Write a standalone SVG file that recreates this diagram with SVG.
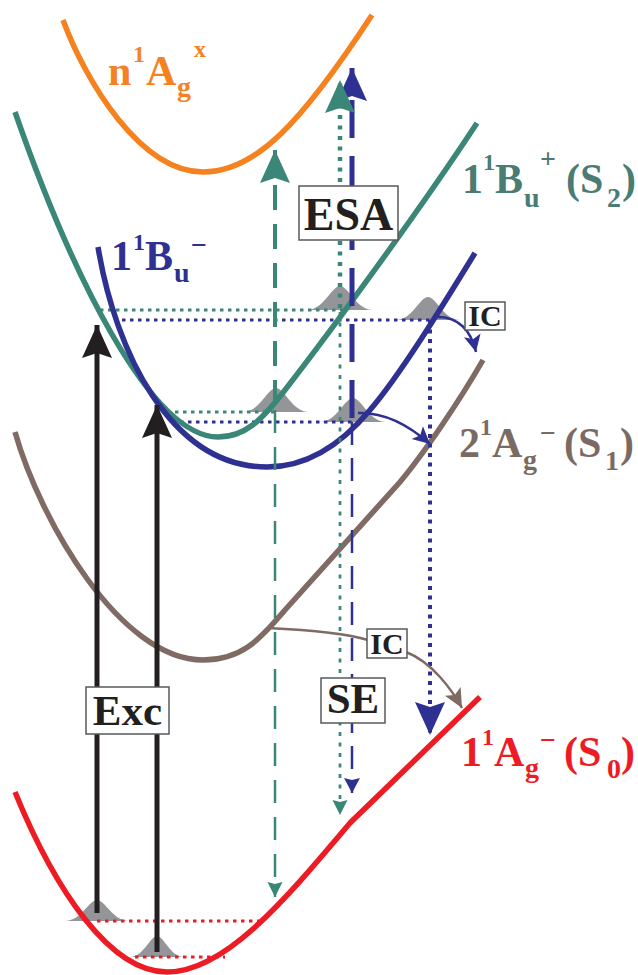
<svg xmlns="http://www.w3.org/2000/svg" width="638" height="975" viewBox="0 0 638 975">
<style>
.curve{fill:none;stroke-width:5.5;stroke-linecap:butt}
.wp{fill:#939598;stroke:none}
.hdot{fill:none;stroke-width:3.2;stroke-dasharray:3.5 4.5}
.lbl{font-family:"Liberation Serif","Times New Roman",serif;font-weight:bold}
.box rect{fill:#fff;stroke:#58595b;stroke-width:1.5}
.box text{font-family:"Liberation Serif","Times New Roman",serif;font-weight:bold;fill:#231f20;text-anchor:middle}
.sub{font-size:28px}
.sup{font-size:24px}
</style>
<defs>
<marker id="m-black" markerUnits="userSpaceOnUse" orient="auto" refX="0" refY="0" markerWidth="40" markerHeight="40" overflow="visible"><path d="M0,0 L-33,-15 L-28,0 L-33,15 Z" fill="#231f20"/></marker>
<marker id="m-teal" markerUnits="userSpaceOnUse" orient="auto" refX="0" refY="0" markerWidth="40" markerHeight="40" overflow="visible"><path d="M0,0 L-33,-15 L-28,0 L-33,15 Z" fill="#3a8677"/></marker>
<marker id="m-blue" markerUnits="userSpaceOnUse" orient="auto" refX="0" refY="0" markerWidth="40" markerHeight="40" overflow="visible"><path d="M0,0 L-33,-15 L-28,0 L-33,15 Z" fill="#2e3192"/></marker>
<marker id="m-teal-s" markerUnits="userSpaceOnUse" orient="auto" refX="0" refY="0" markerWidth="20" markerHeight="20" overflow="visible"><path d="M0,0 L-15,-7.5 L-13,0 L-15,7.5 Z" fill="#3a8677"/></marker>
<marker id="m-blue-s" markerUnits="userSpaceOnUse" orient="auto" refX="0" refY="0" markerWidth="20" markerHeight="20" overflow="visible"><path d="M0,0 L-15,-8 L-13,0 L-15,8 Z" fill="#2e3192"/></marker>
<marker id="m-blue-c" markerUnits="userSpaceOnUse" orient="auto" refX="0" refY="0" markerWidth="20" markerHeight="20" overflow="visible"><path d="M0,0 L-17,-8.5 L-13,0 L-17,8.5 Z" fill="#2e3192"/></marker>
<marker id="m-brown" markerUnits="userSpaceOnUse" orient="auto" refX="0" refY="0" markerWidth="24" markerHeight="24" overflow="visible"><path d="M0,0 L-19,-9 L-15,0 L-19,9 Z" fill="#7f6b63"/></marker>
</defs>
<rect width="638" height="975" fill="#fff"/>

<g id="wavepackets">
<path class="wp" d="M65,921 C81,921 89,900 97,900 C105,900 113,921 129,921 Z"/>
<path class="wp" d="M130,957 C143.5,957 150.25,936 157,936 C163.75,936 170.5,957 184,957 Z"/>
<path class="wp" d="M243,412 C259.5,412 267.75,388 276,388 C284.25,388 292.5,412 309,412 Z"/>
<path class="wp" d="M320,422 C336.5,422 344.75,398 353,398 C361.25,398 369.5,422 386,422 Z"/>
<path class="wp" d="M307,310 C323.5,310 331.75,286 340,286 C348.25,286 356.5,310 373,310 Z"/>
<path class="wp" d="M396,320 C412,320 420,297 428,297 C436,297 444,320 460,320 Z"/>
</g>

<g id="levels">
<line class="hdot" x1="100" y1="310" x2="345" y2="310" stroke="#3a8677"/>
<line class="hdot" x1="122" y1="320" x2="432" y2="320" stroke="#2e3192"/>
<line class="hdot" x1="167" y1="412" x2="276" y2="412" stroke="#3a8677"/>
<line class="hdot" x1="180" y1="422" x2="354" y2="422" stroke="#2e3192"/>
<line class="hdot" x1="97" y1="921" x2="263" y2="921" stroke="#ed1c24"/>
<line class="hdot" x1="135" y1="957" x2="225" y2="957" stroke="#ed1c24"/>
</g>

<g id="state-nAg">
<path class="curve" stroke="#f5821f" d="M63,20 C85,80 140,172 203,172 C255,172 300,125 372,15"/>
<text class="lbl" fill="#f5821f" font-size="42"><tspan x="108" y="85">n</tspan><tspan class="sup" x="133" y="62">1</tspan><tspan x="146" y="85">A</tspan><tspan class="sub" x="177" y="96">g</tspan><tspan class="sup" font-size="26" x="194" y="57">x</tspan></text>
</g>

<g id="state-S2">
<path class="curve" stroke="#3a8677" d="M15,112 C70,270 150,437 218,437 C245,437 262,420 285,390 C330,332 420,210 477,123"/>
<text class="lbl" fill="#4a7c74" font-size="42"><tspan x="462" y="193">1</tspan><tspan class="sup" x="483" y="170">1</tspan><tspan x="495" y="193">B</tspan><tspan class="sub" x="524" y="207">u</tspan><tspan class="sub" x="540" y="168">+</tspan><tspan x="566" y="193">(S</tspan><tspan class="sub" x="607" y="207">2</tspan><tspan x="622" y="193">)</tspan></text>
</g>

<g id="state-Bu-minus">
<path class="curve" stroke="#2e3192" d="M98,247 C115,350 170,467 267,467 C310,467 345,440 370,410 C400,375 440,310 475,253"/>
<text class="lbl" fill="#2e3192" font-size="42"><tspan x="111" y="270">1</tspan><tspan class="sup" x="133" y="250">1</tspan><tspan x="145" y="270">B</tspan><tspan class="sub" x="174" y="282">u</tspan><tspan class="sub" x="191" y="254">−</tspan></text>
</g>

<g id="state-S1">
<path class="curve" stroke="#7f6b63" d="M15,432 C40,520 120,660 203,660 C240,660 258,642 285,610 L400,482 C425,452 460,400 483,360"/>
<text class="lbl" fill="#7b6a63" font-size="42"><tspan x="459" y="457">2</tspan><tspan class="sup" x="480" y="435">1</tspan><tspan x="492" y="457">A</tspan><tspan class="sub" x="523" y="469">g</tspan><tspan class="sub" x="540" y="442">−</tspan><tspan x="564" y="457">(S</tspan><tspan class="sub" x="605" y="470">1</tspan><tspan x="620" y="457">)</tspan></text>
</g>

<g id="state-S0">
<path class="curve" stroke="#ed1c24" d="M15,792 C55,890 110,972 167,972 C225,972 285,900 350,823 L480,697"/>
<text class="lbl" fill="#ed1c24" font-size="42"><tspan x="461" y="766">1</tspan><tspan class="sup" x="482" y="745">1</tspan><tspan x="494" y="766">A</tspan><tspan class="sub" x="525" y="777">g</tspan><tspan class="sub" x="540" y="749">−</tspan><tspan x="564" y="766">(S</tspan><tspan class="sub" x="607" y="778">0</tspan><tspan x="621" y="766">)</tspan></text>
</g>

<g id="connectors" fill="none">
<line x1="97" y1="913" x2="97" y2="325" stroke="#231f20" stroke-width="5" marker-end="url(#m-black)"/>
<line x1="157" y1="952" x2="157" y2="405" stroke="#231f20" stroke-width="5" marker-end="url(#m-black)"/>
<line x1="352" y1="418" x2="352" y2="68" stroke="#2e3192" stroke-width="5" stroke-dasharray="38 18" marker-end="url(#m-blue)"/>
<line x1="352" y1="422" x2="352" y2="793" stroke="#2e3192" stroke-width="2.5" stroke-dasharray="23 13" marker-end="url(#m-blue-s)"/>
<line x1="275" y1="405" x2="275" y2="150" stroke="#3a8677" stroke-width="4" stroke-dasharray="25 14" marker-end="url(#m-teal)"/>
<line x1="275" y1="410" x2="275" y2="897" stroke="#3a8677" stroke-width="2.5" stroke-dasharray="23 14" marker-end="url(#m-teal-s)"/>
<line x1="340" y1="308" x2="340" y2="80" stroke="#3a8677" stroke-width="4.5" stroke-dasharray="4 6.5" marker-end="url(#m-teal)"/>
<line x1="340" y1="312" x2="340" y2="815" stroke="#3a8677" stroke-width="2.7" stroke-dasharray="4 6.5" marker-end="url(#m-teal-s)"/>
<line x1="430" y1="320" x2="430" y2="735" stroke="#2e3192" stroke-width="4" stroke-dasharray="4 5.5" marker-end="url(#m-blue)"/>
<path d="M438,317 C458,317 471,330 476,352" stroke="#2e3192" stroke-width="2.5" marker-end="url(#m-blue-c)"/>
<path d="M358,413 C388,412 412,428 430,444" stroke="#2e3192" stroke-width="2.5" marker-end="url(#m-blue-c)"/>
<path d="M268,628 C310,630 345,633 368,640" stroke="#7f6b63" stroke-width="2.5"/>
<path d="M406,652 C432,662 452,690 462,708" stroke="#7f6b63" stroke-width="2.5" marker-end="url(#m-brown)"/>
</g>

<g id="box-ESA" class="box"><rect x="299" y="186" width="99" height="54"/><text x="348.5" y="230" font-size="46">ESA</text></g>
<g id="box-SE" class="box"><rect x="321" y="678" width="64" height="45"/><text x="353" y="713" font-size="43">SE</text></g>
<g id="box-Exc" class="box"><rect x="86" y="687" width="83" height="47"/><text x="127.5" y="725" font-size="43">Exc</text></g>
<g id="box-IC1" class="box"><rect x="465" y="302" width="40" height="28"/><text x="485" y="326" font-size="30">IC</text></g>
<g id="box-IC2" class="box"><rect x="367" y="629" width="40" height="29"/><text x="387" y="654" font-size="30">IC</text></g>
</svg>
